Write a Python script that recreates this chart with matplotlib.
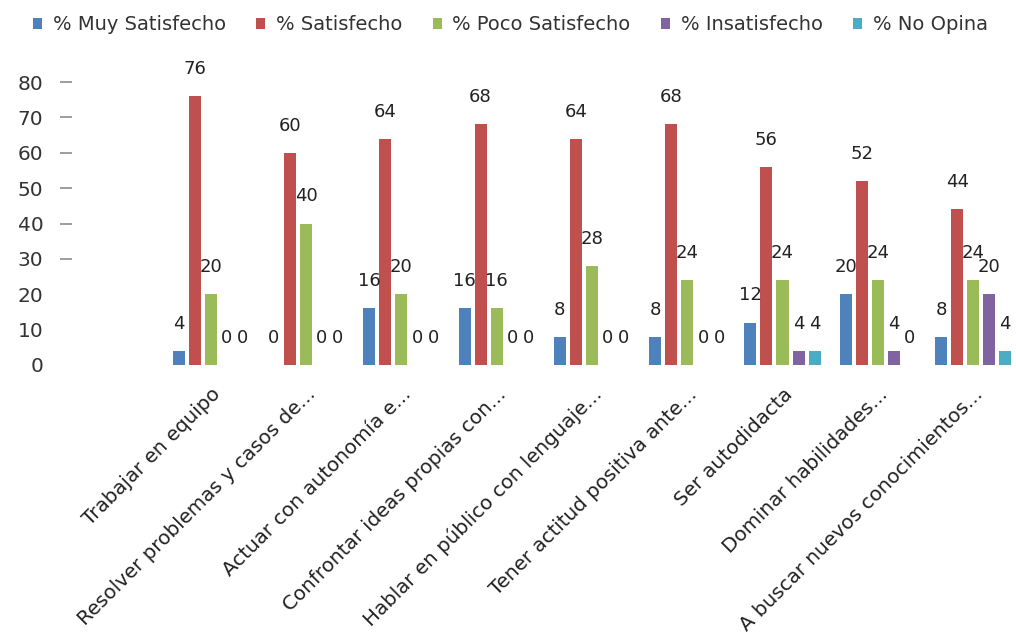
import matplotlib
matplotlib.use('Agg')
import matplotlib.pyplot as plt
import numpy as np
from matplotlib.patches import Patch

categories = ["Trabajar en equipo",
              "Resolver problemas y casos de...",
              "Actuar con autonomía e...",
              "Confrontar ideas propias con...",
              "Hablar en público con lenguaje...",
              "Tener actitud positiva ante...",
              "Ser autodidacta",
              "Dominar habilidades...",
              "A buscar nuevos conocimientos..."]
series_names = ["% Muy Satisfecho", "% Satisfecho", "% Poco Satisfecho",
                "% Insatisfecho", "% No Opina"]
muy_satisfecho = [4, 0, 16, 16, 8, 8, 12, 20, 8]
satisfecho = [76, 60, 64, 68, 64, 68, 56, 52, 44]
poco_satisfecho = [20, 40, 20, 16, 28, 24, 24, 24, 24]
insatisfecho = [0, 0, 0, 0, 0, 0, 4, 4, 20]
no_opina = [0, 0, 0, 0, 0, 0, 4, 0, 4]
y_ticks = [0, 10, 20, 30, 40, 50, 60, 70, 80]

colors = ["#4F81BD", "#C0504D", "#9BBB59", "#8064A2", "#4BACC6"]
series = [muy_satisfecho, satisfecho, poco_satisfecho, insatisfecho, no_opina]

plt.rcParams['font.family'] = ['DejaVu Sans']

fig = plt.figure(figsize=(10.16, 6.44), dpi=100)
ax = fig.add_axes([163 / 1016, (644 - 365) / 644, 853 / 1016, (365 - 82) / 644])

x = np.arange(len(categories))
step = 0.168
width = 0.126
for i, (vals, col) in enumerate(zip(series, colors)):
    pos = x + (i - 2) * step
    ax.bar(pos, vals, width=width, color=col, label=series_names[i])
    for px, v in zip(pos, vals):
        ax.annotate(str(v), (px, v), xytext=(0, 19.5), textcoords='offset points',
                    ha='center', va='center', fontsize=13, color='#222222',
                    annotation_clip=False)

ax.set_xlim(-0.5, 8.45)
ax.set_ylim(0, 80)
for s in ax.spines.values():
    s.set_visible(False)
ax.spines['left'].set_position(('outward', 65.5))

ax.set_yticks(y_ticks)
ax.set_yticklabels([str(t) for t in y_ticks], fontsize=14.5, color='#333333')
ax.tick_params(axis='y', length=8.6, width=1.2, color='#8c8c8c', pad=12)
for t in ax.yaxis.get_major_ticks()[:3]:
    t.tick1line.set_visible(False)

ax.set_xticks(x)
ax.set_xticklabels(categories, rotation=45, ha='right', va='top',
                   rotation_mode='anchor', fontsize=14.3, color='#222222')
ax.tick_params(axis='x', length=0, pad=14)

handles = [Patch(facecolor=c, edgecolor='none') for c in colors]
fs = 14
fpx = fs * 100 / 72
fig.legend(handles, series_names, loc='center left',
           bbox_to_anchor=(33 / 1016, 1 - 25 / 644), ncol=5, frameon=False,
           fontsize=fs, handlelength=9 / fpx, handleheight=9 / fpx,
           handletextpad=11 / fpx, columnspacing=30 / fpx, borderpad=0,
           borderaxespad=0, labelcolor='#333333')

fig.savefig('out.png', dpi=100)
